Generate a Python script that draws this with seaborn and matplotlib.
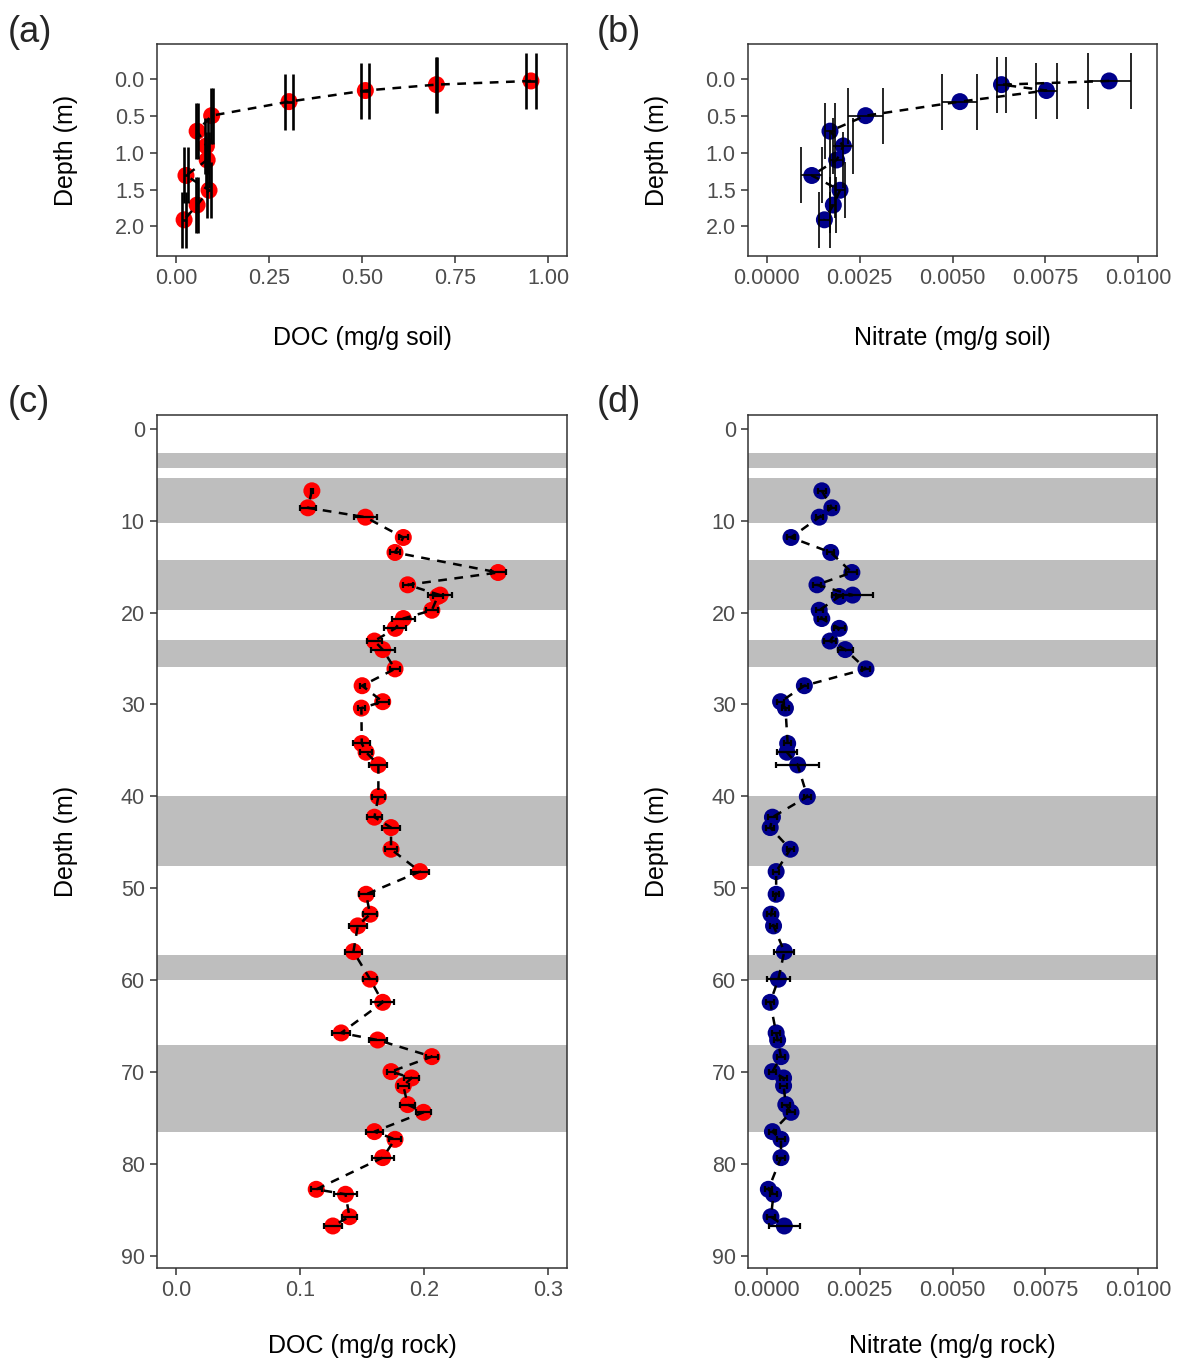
import matplotlib
matplotlib.use("Agg")
import matplotlib.pyplot as plt
import numpy as np
import pandas as pd
import seaborn as sns

# ---- soil profile (0-2 m) ----
soil_depth = [0.03, 0.08, 0.16, 0.31, 0.50, 0.71, 0.91, 1.10, 1.31, 1.51, 1.71, 1.91]
soil_doc = [0.954, 0.700, 0.509, 0.304, 0.096, 0.057, 0.082, 0.084, 0.027, 0.089, 0.057, 0.022]
soil_doc_err = [0.014, 0.002, 0.011, 0.011, 0.003, 0.003, 0.004, 0.004, 0.0045, 0.006, 0.002, 0.006]
soil_no3 = [0.00922, 0.00632, 0.00753, 0.00520, 0.00266, 0.00170, 0.00206, 0.00188,
            0.00121, 0.00197, 0.00179, 0.00155]
soil_no3_err = [0.00058, 0.00011, 0.00029, 0.00047, 0.00047, 0.00014, 0.00027, 0.00018,
                0.00028, 0.00014, 0.00008, 0.00014]

# ---- rock core (0-90 m) ----
rock_depth = [6.75, 8.6, 9.62, 11.83, 13.46, 15.64, 16.98, 18.1, 18.25, 19.75,
              20.65, 21.72, 23.1, 24.03, 26.13, 27.96, 29.7, 30.4, 34.25, 35.2,
              36.58, 40.03, 42.27, 43.4, 45.76, 48.19, 50.66, 52.83, 54.1, 56.9,
              59.9, 62.42, 65.75, 66.52, 68.33, 69.96, 70.65, 71.5, 73.55, 74.39,
              76.49, 77.33, 79.32, 82.77, 83.31, 85.75, 86.76]
rock_doc = [0.1096, 0.1064, 0.1527, 0.1833, 0.1766, 0.2597, 0.1868, 0.2130, 0.2110, 0.2063,
            0.1833, 0.1768, 0.1600, 0.1667, 0.1766, 0.1501, 0.1667, 0.1495, 0.1498, 0.1533,
            0.1632, 0.1632, 0.1600, 0.1734, 0.1734, 0.1967, 0.1533, 0.1565, 0.1466, 0.1431,
            0.1565, 0.1667, 0.1332, 0.1626, 0.2063, 0.1734, 0.1900, 0.1833, 0.1868, 0.1996,
            0.1600, 0.1766, 0.1667, 0.1131, 0.1367, 0.1399, 0.1265]
rock_doc_err = [0.001, 0.0067, 0.0091, 0.0038, 0.0043, 0.006, 0.004, 0.0097, 0.004, 0.0048,
                0.0095, 0.009, 0.006, 0.0097, 0.0043, 0.002, 0.005, 0.003, 0.0067, 0.005,
                0.0073, 0.0055, 0.006, 0.0073, 0.005, 0.007, 0.006, 0.0054, 0.0073, 0.0067,
                0.0054, 0.0091, 0.007, 0.0073, 0.0046, 0.003, 0.006, 0.0046, 0.006, 0.0064,
                0.0067, 0.005, 0.009, 0.0046, 0.009, 0.0062, 0.0073]
rock_no3 = [0.00148, 0.00175, 0.00141, 0.00065, 0.00172, 0.00229, 0.00135, 0.00231, 0.00195, 0.00141,
            0.00148, 0.00195, 0.00170, 0.00211, 0.00267, 0.00101, 0.00037, 0.00050, 0.00056, 0.00054,
            0.00083, 0.00109, 0.00015, 0.00009, 0.00063, 0.00025, 0.00025, 0.00011, 0.00018, 0.00047,
            0.00031, 0.00009, 0.00025, 0.00029, 0.00038, 0.00015, 0.00045, 0.00045, 0.00051, 0.00065,
            0.00015, 0.00038, 0.00038, 0.00004, 0.00018, 0.00011, 0.00047]
rock_no3_err = [0.0001, 0.0001, 0.0001, 0.0001, 0.0001, 0.00015, 0.0001, 0.00056, 0.0001, 0.0001,
                0.0001, 0.00015, 0.00015, 0.0002, 0.00012, 0.0001, 0.0001, 0.0001, 0.0001, 0.00028,
                0.00058, 0.0001, 0.00012, 0.0001, 0.0001, 0.00008, 0.00008, 0.0001, 0.0001, 0.00027,
                0.0003, 0.0001, 0.0001, 0.0001, 0.0001, 0.0001, 0.0001, 0.0001, 0.0001, 0.0001,
                0.0001, 0.0001, 0.0001, 0.0001, 0.0001, 0.0001, 0.00041]

# shaded lithological intervals (m)
band_top = [2.65, 5.4, 14.3, 23.0, 40.0, 57.3, 67.1]
band_bottom = [4.3, 10.3, 19.7, 25.9, 47.6, 60.0, 76.5]

soil = pd.DataFrame({"depth": soil_depth, "doc": soil_doc, "doc_err": soil_doc_err,
                     "no3": soil_no3, "no3_err": soil_no3_err})
rock = pd.DataFrame({"depth": rock_depth, "doc": rock_doc, "doc_err": rock_doc_err,
                     "no3": rock_no3, "no3_err": rock_no3_err})

sns.set_theme(style="ticks")
plt.rcParams["font.family"] = ["Liberation Sans", "DejaVu Sans"]

W, H = 1177, 1362
fig = plt.figure(figsize=(W / 100, H / 100), dpi=100)


def rect(left, top, right, bottom):
    return [left / W, 1 - bottom / H, (right - left) / W, (bottom - top) / H]


ax_a = fig.add_axes(rect(157.3, 44, 566.7, 256))
ax_b = fig.add_axes(rect(748.3, 44, 1156.7, 256))
ax_c = fig.add_axes(rect(157.3, 415, 566.7, 1267.7))
ax_d = fig.add_axes(rect(748.3, 415, 1156.7, 1267.7))

RED = "#FF0000"
BLUE = "#00008B"


def profile(ax, df, col, err, color, capsize, elw, size=150):
    sns.scatterplot(data=df, x=col, y="depth", ax=ax, color=color, s=size,
                    edgecolor="none", zorder=3, legend=False)
    sns.lineplot(data=df, x=col, y="depth", ax=ax, sort=False, estimator=None,
                 color="black", linewidth=1.8, zorder=4, legend=False)
    ax.lines[-1].set_dashes([3.5, 3])
    ax.errorbar(df[col], df["depth"], xerr=df[err], fmt="none", ecolor="black",
                elinewidth=elw, capsize=capsize, capthick=elw, zorder=5)


profile(ax_a, soil, "doc", "doc_err", RED, capsize=20, elw=1.9)
profile(ax_b, soil, "no3", "no3_err", BLUE, capsize=20, elw=1.2)

for ax in (ax_c, ax_d):
    for t, b in zip(band_top, band_bottom):
        ax.axhspan(t, b, color="#BEBEBE", lw=0, zorder=0)

profile(ax_c, rock, "doc", "doc_err", RED, capsize=2.2, elw=1.6)
profile(ax_d, rock, "no3", "no3_err", BLUE, capsize=2.2, elw=1.6)

# axis limits, ticks and labels
ax_a.set_xlim(-0.05, 1.05)
ax_a.set_xticks([0, 0.25, 0.5, 0.75, 1.0])
ax_a.set_xticklabels(["0.00", "0.25", "0.50", "0.75", "1.00"])
ax_b.set_xlim(-0.0005, 0.0105)
ax_d.set_xlim(-0.0005, 0.0105)
for ax in (ax_b, ax_d):
    ax.set_xticks([0, 0.0025, 0.005, 0.0075, 0.01])
    ax.set_xticklabels(["0.0000", "0.0025", "0.0050", "0.0075", "0.0100"])
ax_c.set_xlim(-0.015, 0.315)
ax_c.set_xticks([0, 0.1, 0.2, 0.3])
ax_c.set_xticklabels(["0.0", "0.1", "0.2", "0.3"])

for ax in (ax_a, ax_b):
    ax.set_ylim(2.40, -0.47)
    ax.set_yticks([0, 0.5, 1.0, 1.5, 2.0])
    ax.set_yticklabels(["0.0", "0.5", "1.0", "1.5", "2.0"])
for ax in (ax_c, ax_d):
    ax.set_ylim(91.3, -1.5)
    ax.set_yticks(np.arange(0, 91, 10))

xlabels = {ax_a: "DOC (mg/g soil)", ax_b: "Nitrate (mg/g soil)",
           ax_c: "DOC (mg/g rock)", ax_d: "Nitrate (mg/g rock)"}
for ax, lab in xlabels.items():
    ax.set_xlabel(lab, fontsize=18, color="black")
    ax.set_ylabel("Depth (m)", fontsize=18, color="black")
    small = ax in (ax_a, ax_b)
    ax.xaxis.set_label_coords(0.5, -0.387 if small else -0.092)
    ax.xaxis.label.set_va("center")
    ax.yaxis.set_label_coords(-0.223, 0.5)
    ax.yaxis.label.set_va("center")
    ax.tick_params(axis="both", labelsize=15.5, labelcolor="#4D4D4D", color="#333333",
                   length=5, width=1.1, pad=4, direction="out")
    for sp in ax.spines.values():
        sp.set_visible(True)
        sp.set_color("#333333")
        sp.set_linewidth(1.1)
    ax.set_facecolor("white")
    ax.grid(False)

for lab, x, y in [("(a)", 8, 33), ("(b)", 597, 33), ("(c)", 8, 402), ("(d)", 597, 402)]:
    fig.text(x / W, 1 - y / H, lab, fontsize=26, ha="left", va="center")

fig.savefig("out.png", dpi=100, facecolor="white")
